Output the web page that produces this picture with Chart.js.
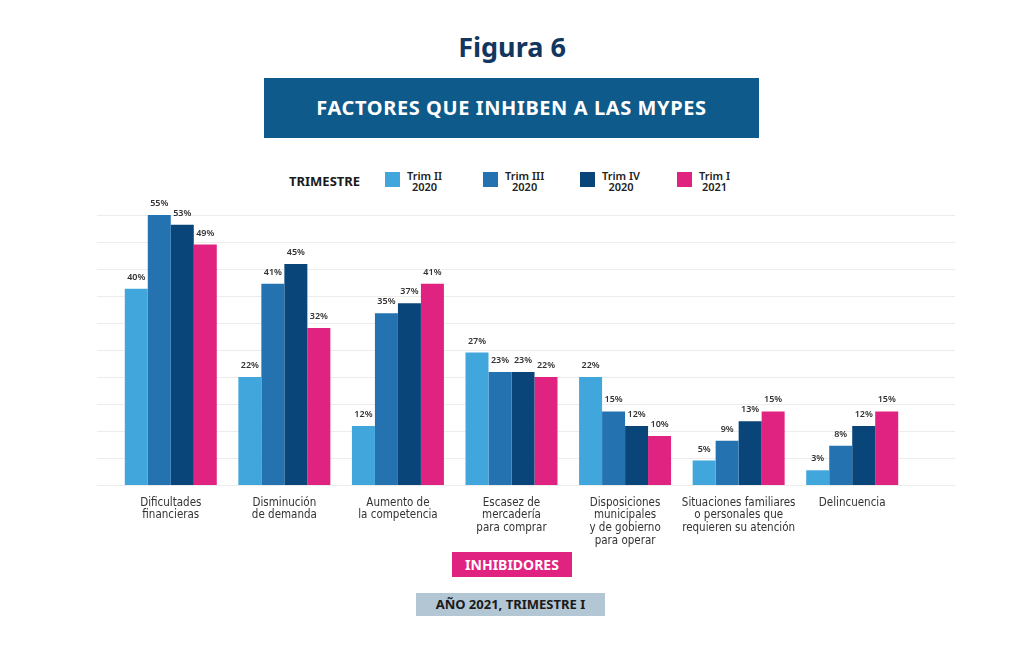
<!DOCTYPE html>
<html>
<head>
<meta charset="utf-8">
<script src="https://cdn.jsdelivr.net/npm/chart.js@4.4.1/dist/chart.umd.min.js"></script>
<style>
  html, body { margin: 0; padding: 0; background: #ffffff; }
  body { width: 1024px; height: 649px; position: relative; overflow: hidden; font-family: "Noto Sans", Lato, sans-serif; }
  #wrap { position: absolute; left: 0; top: 0; width: 1024px; height: 649px; }
  .title { position: absolute; left: 0; width: 1024px; top: 28px; text-align: center; font-size: 27px; font-weight: 700; color: #12365f; }
  .banner { position: absolute; left: 264px; top: 78px; width: 495px; height: 60px; background: #0e5a8a; color: #fff; font-size: 20px; font-weight: 700; letter-spacing: 0.6px; text-align: center; line-height: 60px; }
  .legend-title { position: absolute; left: 289px; top: 172px; font-size: 13px; font-weight: 700; color: #1a1a1a; }
  .lg-item { position: absolute; top: 172px; }
  .lg-box { position: absolute; left: 0; top: 0; width: 15px; height: 15px; }
  .lg-text { position: absolute; left: 22px; top: -2px; font-size: 11px; font-weight: 600; line-height: 11px; color: #222; white-space: nowrap; text-align: center; }
  .tag { position: absolute; color: #fff; font-weight: 700; text-align: center; }
</style>
</head>
<body>
<div class="title">Figura 6</div>
<div class="banner">FACTORES QUE INHIBEN A LAS MYPES</div>
<div class="legend-title">TRIMESTRE</div>
<div id="legend"></div>
<div id="wrap"><canvas id="chart"></canvas></div>
<div class="tag" style="left:452px;top:552px;width:120px;height:25px;line-height:25px;background:#e02380;font-size:14px;">INHIBIDORES</div>
<div class="tag" style="left:416px;top:593px;width:189px;height:23px;line-height:23px;background:#b3c6d3;color:#1a1a1a;font-size:13px;">AÑO 2021, TRIMESTRE I</div>
<script>
const categories = [
    ['Dificultades', 'financieras'],
    ['Disminución', 'de demanda'],
    ['Aumento de', 'la competencia'],
    ['Escasez de', 'mercadería', 'para comprar'],
    ['Disposiciones', 'municipales', 'y de gobierno', 'para operar'],
    ['Situaciones familiares', 'o personales que', 'requieren su atención'],
    ['Delincuencia']
];
const seriesNames = [['Trim II', '2020'], ['Trim III', '2020'], ['Trim IV', '2020'], ['Trim I', '2021']];
const seriesColors = ['#41a6db', '#2472b0', '#0a457a', '#e02380'];
const trimII2020 = [40, 22, 12, 27, 22, 5, 3];
const trimIII2020 = [55, 41, 35, 23, 15, 9, 8];
const trimIV2020 = [53, 45, 37, 23, 12, 13, 12];
const trimI2021 = [49, 32, 41, 22, 10, 15, 15];
const seriesValues = [trimII2020, trimIII2020, trimIV2020, trimI2021];

// Legend (two-line labels), built from the series arrays
const legendX = [385, 483, 580, 677];
const legend = document.getElementById('legend');
seriesNames.forEach((name, i) => {
    const item = document.createElement('div');
    item.className = 'lg-item';
    item.style.left = legendX[i] + 'px';
    item.innerHTML = '<div class="lg-box" style="background:' + seriesColors[i] + '"></div>' +
        '<div class="lg-text">' + name[0] + '<br>' + name[1] + '</div>';
    legend.appendChild(item);
});

// Grid lines drawn from the y scale, running wider than the bar area
const wideGrid = {
    id: 'wideGrid',
    beforeDatasetsDraw(chart) {
        const ctx = chart.ctx;
        const y = chart.scales.y;
        ctx.save();
        ctx.strokeStyle = '#ececec';
        ctx.lineWidth = 1;
        y.ticks.forEach(t => {
            const py = Math.round(y.getPixelForValue(t.value)) + 0.5;
            ctx.beginPath();
            ctx.moveTo(97, py);
            ctx.lineTo(955, py);
            ctx.stroke();
        });
        ctx.restore();
    }
};

// Value labels above each bar
const barLabels = {
    id: 'barLabels',
    afterDatasetsDraw(chart) {
        const ctx = chart.ctx;
        ctx.save();
        ctx.font = '600 9px "Noto Sans", Lato, sans-serif';
        ctx.fillStyle = '#333333';
        ctx.textAlign = 'center';
        ctx.textBaseline = 'bottom';
        chart.data.datasets.forEach((ds, di) => {
            chart.getDatasetMeta(di).data.forEach((bar, i) => {
                ctx.fillText(ds.data[i] + '%', bar.x, bar.y - 7);
            });
        });
        ctx.restore();
    }
};

const ctx = document.getElementById('chart').getContext('2d');
new Chart(ctx, {
    type: 'bar',
    data: {
        labels: categories,
        datasets: seriesValues.map((vals, i) => ({
            label: seriesNames[i].join(' '),
            data: vals,
            backgroundColor: seriesColors[i],
            borderWidth: 0,
            barPercentage: 1,
            categoryPercentage: 0.81
        }))
    },
    options: {
        responsive: true,
        maintainAspectRatio: false,
        animation: false,
        layout: { padding: { left: 114, right: 115, top: 215, bottom: 98 } },
        plugins: {
            legend: { display: false },
            tooltip: { enabled: false }
        },
        scales: {
            y: {
                display: false,
                min: 0,
                max: 55,
                ticks: { stepSize: 5.5 }
            },
            x: {
                grid: { display: false },
                border: { display: false },
                ticks: {
                    color: '#333333',
                    padding: 3,
                    maxRotation: 0,
                    autoSkip: false,
                    font: { family: '"DejaVu Sans Condensed", "Liberation Sans Narrow", "Noto Sans", sans-serif', size: 11.5, lineHeight: 1.13 }
                }
            }
        }
    },
    plugins: [wideGrid, barLabels]
});
</script>
</body>
</html>
